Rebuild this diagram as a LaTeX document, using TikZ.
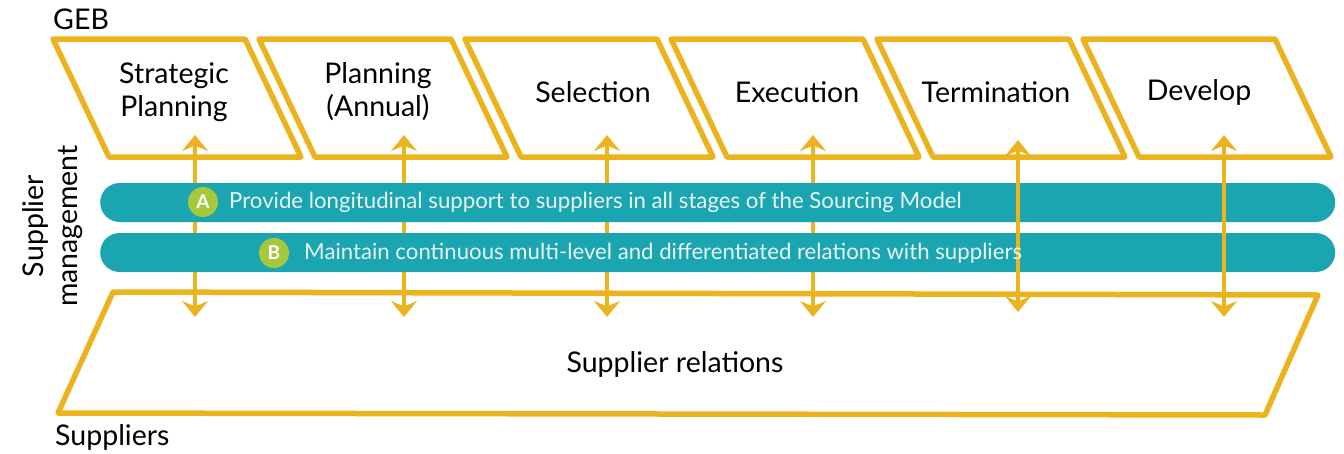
\documentclass[tikz,border=0pt]{standalone}
\usepackage{fontspec}
\setmainfont{Lato}
\usetikzlibrary{arrows.meta}
\definecolor{gold}{HTML}{EBB31D}
\definecolor{tealbar}{HTML}{1AA5B0}
\definecolor{lime}{HTML}{A5C83C}
\definecolor{bartext}{HTML}{E8F6F7}
\tikzset{
  stage/.style={draw=gold, line width=5.5pt, line join=round},
  lbl/.style={font=\fontsize{28.5}{33}\selectfont, align=center, text=black, inner sep=0pt},
  tip/.tip={Stealth[length=16pt,width=26pt,inset=5.5pt]},
  biarrow/.style={draw=gold, line width=4.8pt, tip-tip},
  bar/.style={fill=tealbar, rounded corners=19.5pt, minimum width=1235pt, minimum height=39pt, anchor=west, inner sep=0pt},
  badge/.style={circle, fill=lime, minimum size=30pt, inner sep=0pt, text=white, font=\bfseries\fontsize{19}{19}\selectfont},
  bartxt/.style={text=bartext, anchor=west, font=\fontsize{22.2}{22}\selectfont, inner sep=0pt},
  side/.style={font=\fontsize{28.5}{34}\selectfont, text=black, inner sep=0pt},
}
\begin{document}
\begin{tikzpicture}[x=1pt,y=-1pt]
\useasboundingbox (0,0) rectangle (1344,453);
% top stages
\foreach \i/\l in {0/53,1/259,2/465,3/671,4/877,5/1083}{
  \draw[stage] (\l,39) -- ++(192,0) -- ++(56,118) -- ++(-192,0) -- cycle;
}
\node[lbl] (s1) at (174,92) {Strategic\\Planning};
\node[lbl] (s2) at (378,92) {Planning\\(Annual)};
\node[lbl] (s3) at (593,92) {Selection};
\node[lbl] (s4) at (797,92) {Execution};
\node[lbl] (s5) at (996,92) {Termination};
\node[lbl] (s6) at (1199,92) {Develop};
% bottom
\draw[stage] (113,292) -- (1318,295) -- (1265,415) -- (58,413) -- cycle;
\node[lbl] (rel) at (675,364) {Supplier relations};
% arrow ends
\coordinate (t1) at (195,135); \coordinate (b1) at (195,317);
\coordinate (t2) at (404,135); \coordinate (b2) at (404,317);
\coordinate (t3) at (607,135); \coordinate (b3) at (607,317);
\coordinate (t4) at (813,135); \coordinate (b4) at (813,317);
\coordinate (t5) at (1018,140); \coordinate (b5) at (1018,312);
\coordinate (t6) at (1224,135); \coordinate (b6) at (1224,317);
\draw[biarrow] (b1) -- (t1);
\draw[biarrow] (b2) -- (t2);
\draw[biarrow] (b3) -- (t3);
\draw[biarrow] (b4) -- (t4);
% bars
\node[bar] (barA) at (100,202.5) {};
\node[bar] (barB) at (100,252.5) {};
\draw[biarrow] (b5) -- (t5);
\draw[biarrow] (b6) -- (t6);
\node[badge] (ba) at (203,202) {A};
\node[badge] (bb) at (274,253) {B};
\node[bartxt] (ta) at (229,202) {Provide longitudinal support to suppliers in all stages of the Sourcing Model};
\node[bartxt] (tb) at (304,253) {Maintain continuous multi-level and differentiated relations with suppliers};
% side labels
\node[side, anchor=west] (geb) at (53,19) {GEB};
\node[side, anchor=west] (sup) at (55,437) {Suppliers};
\node[side, rotate=90, align=center] (sm) at (53,226) {Supplier\\management};
\end{tikzpicture}
\end{document}
